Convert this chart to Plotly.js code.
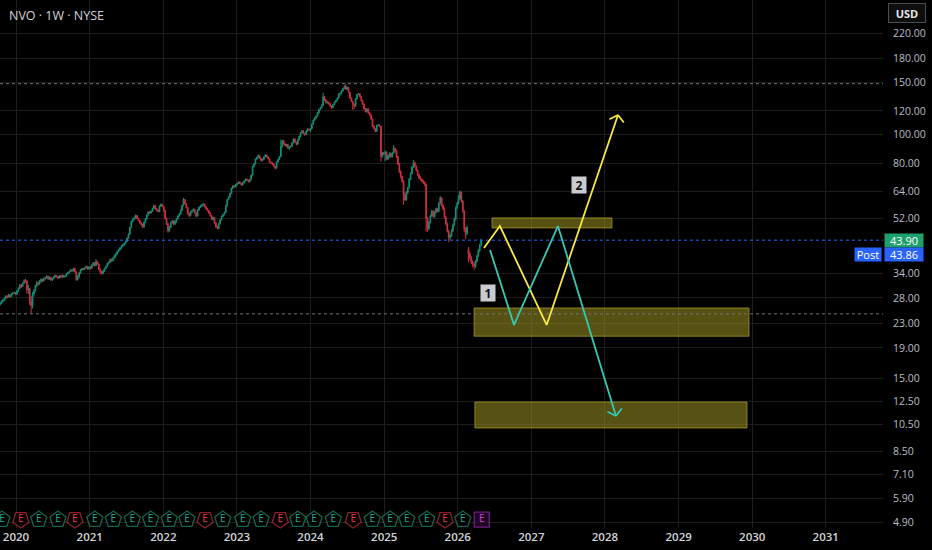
<!DOCTYPE html>
<html><head><meta charset="utf-8">
<script src="https://cdn.plot.ly/plotly-3.0.1.min.js"></script>
<style>html,body{margin:0;padding:0;background:#000;}#chart{width:932px;height:550px;}</style>
</head><body><div id="chart"></div>
<script>
// ---------- DATA ----------
const firstWeek = '2019-09-30';   // weekly candles, Monday start
const opens = [
27.6,27.2,26.6,26.9,27.3,27.6,27.9,28.4,28.2,28.7,28.3,28.9,29.0,29.2,
28.9,29.6,30.2,31.0, 30.6,31.4,32.1,32.0, 29.8,30.1,27.2,26.4,28.9, 29.6,30.8,31.6,31.2, 31.9,32.4,32.0,32.6, 32.8,33.2,32.5,32.9,32.2, 32.6,33.0,33.4,33.1, 32.7,33.3,32.9,33.4,33.0, 33.2,33.8,34.1,34.4, 34.9,34.6,35.2,34.3, 32.3,33.1,34.0,34.8,35.2, 35.0,35.4,35.8,35.1,
35.6,35.3,36.2,36.8, 36.0,37.2,36.5,35.0, 34.2,33.9,34.6,35.2,35.8, 36.6,37.0,37.8,37.4, 38.2,38.9,39.5,40.2,40.8, 41.3,41.9,42.4,42.8, 43.5,44.6,46.0,48.5, 50.8,51.6,52.3,53.2,52.0, 51.2,50.2,49.6,48.6, 50.4,51.8,53.5,54.6, 54.2,55.0,56.2,57.4,56.0, 55.5,54.8,57.2,58.0,
57.0,55.2,52.0,49.8,47.2, 48.6,50.3,50.9,49.8, 51.0,51.8,53.0,53.8, 55.4,57.5,60.2,58.3, 56.6,54.0,53.2,54.6,55.2, 55.8,54.3,53.0,55.5, 56.8,57.2,57.8,58.1, 57.0,56.0,55.2,54.2,53.0, 51.6,52.4,50.2,48.6, 48.1,50.0,51.4,52.8,53.6, 54.5,57.5,60.2,61.4, 63.2,65.8,67.0,66.5,
67.7,68.2,69.0,68.3,67.4, 68.6,69.6,70.5,70.0, 69.2,70.4,72.8,78.0, 79.4,82.5,83.6,84.8, 83.0,81.5,82.4,83.9,85.2, 84.0,82.8,80.5,80.0, 79.4,78.0,76.9,80.6,82.3, 84.0,90.8,95.2,93.0, 91.5,92.4,89.8,90.6, 91.2,93.6,96.4,94.0,92.5, 96.0,98.5,101.2,102.8, 100.6,99.8,102.5,104.2,
103.4,104.5,108.2,111.8,113.5, 115.0,118.2,121.4,123.0, 125.5,134.2,130.6,128.0, 128.4,126.8,124.6,123.2,126.0, 128.4,130.2,132.5,136.8, 137.5,140.2,142.8,145.4, 142.0,144.0,138.5,132.6,129.2, 126.0,124.5,131.8,136.4, 137.0,134.2,130.0,126.5,122.0, 119.3,121.8,118.0,116.2, 112.5,106.8,104.6,102.5, 107.2,107.5,106.4,84.2,86.5,
86.0,87.0,82.5,84.8, 86.2,84.0,86.5,89.6, 88.2,84.0,79.5,74.8,72.0, 69.5,62.4,60.0,63.5, 66.0,70.5,73.8,77.5, 80.2,78.0,75.5,73.0,71.2, 70.4,69.5,68.8,67.6, 52.0,48.0,50.5,53.0, 55.0,52.8,54.5,56.0,55.0, 58.5,61.0,57.5,56.0, 52.5,49.8,47.0,44.8, 45.5,47.2,49.5,51.8,56.5,
58.6,60.5,63.8,59.5, 55.0,48.0,46.2,41.0, 39.5,38.2,37.0,36.4,35.8, 37.2,38.8,40.5,42.2
];
const highs = [
27.8,27.4,27.1,27.5,27.8,28.1,28.6,28.6,28.9,28.8,29.1,29.3,29.4,29.3,
29.8,30.4,31.3,31.2, 31.6,32.4,32.5,32.1, 31.0,30.3,28.4,29.3,30.0, 31.0,31.9,31.8,32.2, 32.6,32.5,32.8,33.0, 33.4,33.3,33.1,33.0,32.8, 33.2,33.6,33.5,33.2, 33.5,33.4,33.6,33.5,33.4, 34.0,34.3,34.6,35.1, 35.0,35.5,35.3,34.4, 33.4,34.3,35.0,35.4,35.3, 35.6,36.0,35.9,35.8,
35.9,36.4,37.0,37.0, 37.9,37.4,36.6,35.3, 34.6,34.9,35.4,36.0,36.8, 37.2,38.0,38.1,38.4, 39.2,39.8,40.4,41.0,41.6, 42.2,42.7,43.1,43.8, 44.9,46.3,48.8,51.1, 52.0,52.6,53.6,53.4,52.3, 51.4,50.6,49.9,50.7, 52.1,53.8,54.9,55.0, 55.3,56.5,57.8,57.6,56.4, 55.8,57.5,58.5,58.2,
57.3,55.6,52.4,50.3,49.0, 50.6,51.4,51.2,51.3, 52.1,53.3,54.2,55.7, 57.8,61.0,60.5,58.6, 56.9,54.4,55.0,55.6,56.2, 56.0,54.6,55.8,57.1, 57.6,58.2,58.6,58.4, 57.3,56.4,55.5,54.5,53.3, 52.7,52.6,50.5,49.2, 50.3,51.7,53.1,53.9,54.8, 57.8,60.5,61.7,63.5, 66.1,67.4,67.3,68.0,
68.6,69.4,69.3,68.6,69.0, 70.0,70.9,70.8,70.3, 70.8,73.2,78.4,79.8, 83.0,84.0,85.6,85.2, 83.4,82.8,84.3,85.8,85.6, 84.3,83.2,81.0,80.4, 79.8,78.4,81.0,82.8,84.5, 96.0,95.8,95.6,93.4, 92.9,92.7,91.0,91.6, 94.0,97.0,96.8,94.5,96.4, 99.0,101.8,103.4,103.2, 101.0,103.0,104.8,104.6,
105.0,108.8,112.4,114.2,115.8, 118.8,122.0,123.6,126.2, 138.3,134.8,131.2,129.2, 129.0,127.4,125.2,126.6,129.0, 131.0,133.2,137.4,138.2, 140.8,143.5,146.2,148.2, 144.8,144.6,139.2,133.4,130.0, 127.2,132.4,137.0,138.0, 137.6,134.8,130.6,127.2,122.6, 122.6,122.4,118.6,116.8, 113.0,107.4,105.2,107.8, 108.4,108.0,106.8,87.2,87.4,
88.2,87.5,85.4,87.0, 86.8,87.0,92.0,90.4, 88.8,84.6,80.2,75.6,72.6, 70.0,63.8,64.2,66.6, 71.2,74.4,78.2,81.8, 80.8,78.6,76.0,73.6,72.2, 71.0,70.2,69.4,68.0, 52.6,51.0,53.5,55.6, 55.4,55.0,56.6,56.4,59.0, 61.8,61.4,58.0,56.6, 53.0,50.4,47.6,46.2, 47.8,50.0,52.4,57.2,59.2,
62.4,64.6,64.0,60.0, 55.6,48.6,49.2,41.6, 40.2,38.8,37.6,37.0,37.6, 39.2,41.0,42.8,44.4
];
const lows = [
26.9,26.3,26.4,26.7,27.0,27.4,27.7,27.9,28.1,28.0,28.2,28.7,28.9,28.6,
28.7,29.4,30.0,30.2, 30.5,31.2,31.6,29.0, 28.9,26.5,24.8,25.8,28.3, 29.4,30.5,30.8,31.0, 31.6,31.6,31.9,32.3, 32.5,32.2,32.3,32.0,32.0, 32.4,32.8,32.9,32.4, 32.6,32.7,32.8,32.8,32.8, 33.0,33.6,33.8,34.2, 34.3,34.4,34.1,32.0, 32.1,32.6,33.8,34.6,34.7, 34.8,35.2,34.9,35.0,
34.9,35.1,35.9,35.8, 35.9,36.3,34.8,33.8, 33.6,33.7,34.3,35.0,35.6, 36.3,36.8,37.1,37.2, 38.0,38.3,39.2,39.9,40.5, 41.0,41.6,42.0,42.5, 43.3,44.4,45.8,48.2, 50.3,51.2,51.9,51.7,50.9, 50.0,49.2,48.3,48.4, 50.2,51.6,53.2,53.8, 54.0,54.8,56.0,55.7,54.9, 54.5,54.6,57.0,56.8,
54.8,51.6,49.4,46.5,46.8, 48.2,49.9,49.3,49.4, 50.2,51.5,52.7,53.5, 55.1,57.2,58.0,56.2, 53.6,52.5,52.8,54.2,54.9, 54.0,52.5,52.8,55.2, 56.4,56.9,57.4,56.7, 55.7,54.9,53.9,52.7,51.3, 51.2,49.9,48.3,47.6, 47.9,49.6,51.2,52.5,53.2, 54.3,57.2,59.9,61.1, 62.9,65.4,66.0,66.2,
67.2,67.9,67.9,67.0,67.1, 68.3,69.3,69.6,68.8, 68.9,70.0,72.5,77.4, 79.0,82.0,83.2,82.6, 81.0,81.1,82.0,83.5,83.5, 82.3,80.0,79.5,78.9, 77.5,76.0,76.6,80.2,81.9, 83.8,90.2,92.4,91.0, 90.8,89.3,88.6,89.9, 90.8,93.2,93.5,91.8,92.2, 95.6,98.0,100.8,100.1, 99.0,99.4,102.0,102.9,
101.6,104.0,107.7,111.0,112.8, 114.6,117.6,120.8,122.4, 125.0,129.8,127.2,127.0, 126.0,123.8,121.8,122.6,125.4, 127.8,129.6,132.0,135.2, 136.8,139.6,142.2,141.4, 141.2,137.8,131.8,128.4,121.0, 121.8,124.0,131.2,135.6, 133.4,129.2,125.8,121.4,118.6, 118.8,117.4,115.4,111.8, 106.0,103.8,101.6,102.0, 106.6,105.8,80.8,83.6,85.2,
81.2,81.8,82.0,83.4, 83.2,83.6,86.0,86.8, 83.0,78.8,74.0,71.0,68.4, 57.8,59.6,59.6,63.0, 65.6,70.0,73.2,77.0, 77.2,75.0,72.4,70.6,69.8, 68.8,68.0,66.8,47.0, 46.8,47.6,50.0,52.6, 52.4,52.2,54.0,54.4,54.6, 58.0,57.0,55.4,52.0, 49.2,46.6,43.2,44.0, 45.0,46.8,49.0,51.2,56.0,
58.0,60.0,58.8,54.2, 46.8,44.2,45.6,37.0, 37.6,36.4,35.6,34.9,35.4, 36.8,38.4,40.0,41.8
];
const closes = [
27.2,26.6,26.9,27.3,27.6,27.9,28.4,28.2,28.7,28.3,28.9,29.0,29.2,28.9,
29.6,30.2,31.0,30.6, 31.4,32.1,32.0,29.8, 30.1,27.2,26.4,28.9,29.6, 30.8,31.6,31.2,31.9, 32.4,32.0,32.6,32.8, 33.2,32.5,32.9,32.2,32.6, 33.0,33.4,33.1,32.7, 33.3,32.9,33.4,33.0,33.2, 33.8,34.1,34.4,34.9, 34.6,35.2,34.3,32.3, 33.1,34.0,34.8,35.2,35.0, 35.4,35.8,35.1,35.6,
35.3,36.2,36.8,36.0, 37.2,36.5,35.0,34.2, 33.9,34.6,35.2,35.8,36.6, 37.0,37.8,37.4,38.2, 38.9,39.5,40.2,40.8,41.3, 41.9,42.4,42.8,43.5, 44.6,46.0,48.5,50.8, 51.6,52.3,53.2,52.0,51.2, 50.2,49.6,48.6,50.4, 51.8,53.5,54.6,54.2, 55.0,56.2,57.4,56.0,55.5, 54.8,57.2,58.0,57.0,
55.2,52.0,49.8,47.2,48.6, 50.3,50.9,49.8,51.0, 51.8,53.0,53.8,55.4, 57.5,60.2,58.3,56.6, 54.0,53.2,54.6,55.2,55.8, 54.3,53.0,55.5,56.8, 57.2,57.8,58.1,57.0, 56.0,55.2,54.2,53.0,51.6, 52.4,50.2,48.6,48.1, 50.0,51.4,52.8,53.6,54.5, 57.5,60.2,61.4,63.2, 65.8,67.0,66.5,67.7,
68.2,69.0,68.3,67.4,68.6, 69.6,70.5,70.0,69.2, 70.4,72.8,78.0,79.4, 82.5,83.6,84.8,83.0, 81.5,82.4,83.9,85.2,84.0, 82.8,80.5,80.0,79.4, 78.0,76.9,80.6,82.3,84.0, 90.8,95.2,93.0,91.5, 92.4,89.8,90.6,91.2, 93.6,96.4,94.0,92.5,96.0, 98.5,101.2,102.8,100.6, 99.8,102.5,104.2,103.4,
104.5,108.2,111.8,113.5,115.0, 118.2,121.4,123.0,125.5, 134.2,130.6,128.0,128.4, 126.8,124.6,123.2,126.0,128.4, 130.2,132.5,136.8,137.5, 140.2,142.8,145.4,142.0, 144.0,138.5,132.6,129.2,126.0, 124.5,131.8,136.4,137.0, 134.2,130.0,126.5,122.0,119.3, 121.8,118.0,116.2,112.5, 106.8,104.6,102.5,107.2, 107.5,106.4,84.2,86.5,86.0,
87.0,82.5,84.8,86.2, 84.0,86.5,89.6,88.2, 84.0,79.5,74.8,72.0,69.5, 62.4,60.0,63.5,66.0, 70.5,73.8,77.5,80.2, 78.0,75.5,73.0,71.2,70.4, 69.5,68.8,67.6,52.0, 48.0,50.5,53.0,55.0, 52.8,54.5,56.0,55.0,58.5, 61.0,57.5,56.0,52.5, 49.8,47.0,44.8,45.5, 47.2,49.5,51.8,56.5,58.6,
60.5,63.8,59.5,55.0, 48.0,46.2,48.5,39.5, 38.2,37.0,36.4,35.8,37.2, 38.8,40.5,42.2,43.9
];

const lastPrice = 43.90, postPrice = 43.86, athLine = 148.3, lowLine = 24.75;

const priceTicks = [4.9,5.9,7.1,8.5,10.5,12.5,15,19,23,28,34,52,64,80,100,120,150,180,220];

const earningsDates = ['2019-10-23','2020-01-25','2020-04-23','2020-07-27','2020-10-19','2021-01-26','2021-04-28','2021-07-31','2021-10-30','2022-01-30','2022-04-28','2022-07-27','2022-10-23','2023-01-30','2023-05-01','2023-08-04','2023-10-30','2024-01-19','2024-04-23','2024-07-31','2024-11-03','2025-01-30','2025-04-23','2025-07-31','2025-10-30','2026-01-26','2026-04-30'];
const earningsKind = ['g','r','g','g','r','g','g','g','g','g','g','r','g','g','g','r','g','g','g','r','g','g','g','g','r','g','m'];

// drawn scenario paths
const path2Dates = ['2026-05-11','2026-07-29','2027-03-18','2028-03-06'];
const path2Prices = [41.3, 49.0, 22.7, 116.3];
const path1Dates = ['2026-06-10','2026-10-07','2027-05-13','2028-02-25'];
const path1Prices = [40.7, 22.7, 49.0, 11.18];
// zones
const zoneStart = ['2026-06-20','2026-03-23','2026-03-27'];
const zoneEnd   = ['2028-02-05','2029-12-16','2029-12-06'];
const zoneLow   = [48.3, 20.8, 10.19];
const zoneHigh  = [52.2, 25.9, 12.47];
const labelText = ['1','2'];
const labelDates = ['2026-05-31','2027-08-25'];
const labelPrices = [29.1, 67.4];

// ---------- BUILD ----------
const n = Math.min(opens.length, highs.length, lows.length, closes.length);
const dates = [];
const t0 = Date.parse(firstWeek + 'T00:00:00Z');
for (let i = 0; i < n; i++) dates.push(new Date(t0 + i*7*864e5).toISOString().slice(0,10));
const H = [], L = [];
for (let i = 0; i < n; i++) { H.push(Math.max(highs[i], opens[i], closes[i])); L.push(Math.min(lows[i], opens[i], closes[i])); }

const UP = '#12907a', DN = '#d1303f';
const X0 = '2019-10-13 12:00', X1 = '2031-10-12';
const traces = [];

// zones
for (let k = 0; k < zoneStart.length; k++) {
  traces.push({type:'scatter', mode:'lines', x:[zoneStart[k],zoneEnd[k],zoneEnd[k],zoneStart[k],zoneStart[k]],
    y:[zoneLow[k],zoneLow[k],zoneHigh[k],zoneHigh[k],zoneLow[k]], fill:'toself',
    fillcolor:'rgba(150,140,32,0.58)', line:{color:'rgba(160,150,40,0.8)', width:1}, hoverinfo:'skip'});
}
// dotted reference lines
[[athLine,'#6f727b'],[lowLine,'#6f727b'],[lastPrice,'#2962ff']].forEach(([v,c]) => {
  traces.push({type:'scatter', mode:'lines', x:[X0,X1], y:[v,v], line:{color:c, width:1, dash:'dot'}, hoverinfo:'skip'});
});
// candles
traces.push({type:'candlestick', x:dates.slice(0,n), open:opens.slice(0,n), high:H, low:L, close:closes.slice(0,n),
  increasing:{line:{color:UP, width:1}, fillcolor:UP}, decreasing:{line:{color:DN, width:1}, fillcolor:DN},
  whiskerwidth:0, hoverinfo:'skip'});
// scenario paths
traces.push({type:'scatter', mode:'lines', x:path2Dates, y:path2Prices, line:{color:'#f7e93f', width:1.8}, hoverinfo:'skip'});
traces.push({type:'scatter', mode:'lines', x:path1Dates, y:path1Prices, line:{color:'#35c9b4', width:1.8}, hoverinfo:'skip'});

// earnings badges
const bBorder = {g:'#1b8f72', r:'#c62f3e', m:'#a02ab4'};
const bFill = {g:'#000000', r:'#000000', m:'#2c0a34'};
const bText = {g:'#22ab94', r:'#f23645', m:'#c048d8'};
traces.push({type:'scatter', mode:'markers+text', xaxis:'x', yaxis:'y2',
  x:earningsDates, y:earningsDates.map(()=>0.016), text:earningsDates.map(()=>'E'),
  textposition:'middle center', textfont:{size:10, color:earningsKind.map(k=>bText[k]), family:'Open Sans, sans-serif'},
  marker:{symbol:earningsKind.map(k=>k==='m'?'square':'pentagon'), angle:earningsKind.map(k=>k==='r'?180:0),
    size:earningsKind.map(k=>k==='m'?15:17), color:earningsKind.map(k=>bFill[k]),
    line:{color:earningsKind.map(k=>bBorder[k]), width:1.3}},
  hoverinfo:'skip', cliponaxis:false});

const lg = v => Math.log10(v);
const annotations = [
  {xref:'paper', yref:'paper', x:0, y:1, xanchor:'left', yanchor:'top', xshift:7, yshift:-5, showarrow:false,
   text:'NVO · 1W · NYSE', font:{size:12.5, color:'#d1d4dc'}},
  {xref:'paper', yref:'paper', x:1, y:1, xanchor:'left', yanchor:'top', xshift:5, yshift:-3, showarrow:false,
   text:'<b>USD</b>', font:{size:11, color:'#e8e8e8'}, bgcolor:'#0e0e0e', bordercolor:'#4a4d56', borderwidth:1, borderpad:3, width:30, height:12},
  {xref:'paper', yref:'y', x:1, y:lg(lastPrice), xanchor:'left', yanchor:'middle', xshift:1, showarrow:false,
   text:lastPrice.toFixed(2), font:{size:11, color:'#ffffff'}, bgcolor:'#1f9f6c', borderpad:1, width:36, height:11},
  {xref:'paper', yref:'y', x:1, y:lg(lastPrice), xanchor:'left', yanchor:'middle', xshift:1, yshift:-14, showarrow:false,
   text:postPrice.toFixed(2), font:{size:11, color:'#ffffff'}, bgcolor:'#2962ff', borderpad:1, width:36, height:11},
  {xref:'paper', yref:'y', x:1, y:lg(lastPrice), xanchor:'right', yanchor:'middle', xshift:-1, yshift:-14, showarrow:false,
   text:'Post', font:{size:11, color:'#ffffff'}, bgcolor:'#2962ff', borderpad:1, width:24, height:11},
];
for (let k = 0; k < labelText.length; k++) {
  annotations.push({xref:'x', yref:'y', x:labelDates[k], y:lg(labelPrices[k]), showarrow:false,
    text:'<b>'+labelText[k]+'</b>', font:{size:12, color:'#111'}, bgcolor:'#c9cbd1', borderpad:1, width:12, height:14});
}
// arrow heads (open V) at ends of paths
const heads = [
  [path2Dates[3], path2Prices[3], '#f7e93f', [[-10,5],[7,9]]],
  [path1Dates[3], path1Prices[3], '#35c9b4', [[-10,-5],[7,-9]]]
];
heads.forEach(([d,v,c,wings]) => wings.forEach(([ax,ay]) => annotations.push({
  xref:'x', yref:'y', x:d, y:lg(v), ax:ax, ay:ay, showarrow:true, arrowhead:0, arrowwidth:1.8, arrowcolor:c, text:'', standoff:0, startstandoff:0})));

const layout = {
  width:932, height:550, margin:{l:0, r:49, t:0, b:22, pad:0},
  paper_bgcolor:'#000000', plot_bgcolor:'#000000', showlegend:false, hovermode:false, dragmode:false,
  font:{family:'Open Sans, sans-serif', color:'#b8bcc6'},
  xaxis:{type:'date', range:[X0, X1], tick0:'2020-01-01', dtick:'M12', tickformat:'%Y', showgrid:true, gridcolor:'#1c1c1c',
    zeroline:false, showline:false, ticks:'', tickfont:{size:11.5, color:'#d1d4dc', weight:600}, rangeslider:{visible:false},
    fixedrange:true, automargin:false},
  yaxis:{type:'log', side:'right', range:[0.6701, 2.4539], tickvals:priceTicks, ticktext:priceTicks.map(v=>v.toFixed(2)),
    showgrid:true, gridcolor:'#1c1c1c', zeroline:false, showline:false, ticks:'', ticklabelstandoff:9,
    tickfont:{size:10.5, color:'#b8bcc6'}, fixedrange:true, automargin:false},
  yaxis2:{overlaying:'y', range:[0,1], visible:false, fixedrange:true},
  annotations:annotations
};
Plotly.newPlot('chart', traces, layout, {staticPlot:true, displayModeBar:false});
</script></body></html>
